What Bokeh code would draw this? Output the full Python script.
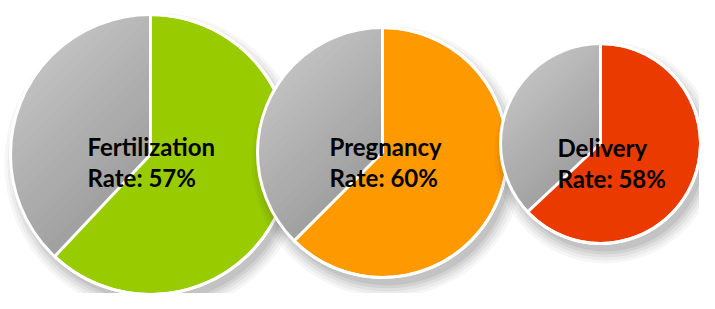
import math
from bokeh.plotting import figure
from bokeh.models import Range1d
from bokeh.core.properties import value
from bokeh.embed import file_html
from bokeh.resources import INLINE

# ---- data ----
stages = ["Fertilization", "Pregnancy", "Delivery"]
rates = [57, 60, 58]                     # label values (%)
slice_share = [62, 62.5, 63]             # drawn share of colored slice (%), as seen
colors = ["#99CC00", "#FF9900", "#EB3A00"]

# ---- layout (pixel coords, y measured from top) ----
cx = [150, 382, 600]
cy = [154, 152, 143]
rad = [140, 125, 100]
label_x = [87, 329, 557]
label_y1 = [146, 146, 147]
label_y2 = [177, 177, 178]

W, H = 699, 293
p = figure(width=W, height=H, output_backend="svg", toolbar_location=None,
           x_range=Range1d(0, W), y_range=Range1d(309 - H, 309),
           min_border=0)
p.axis.visible = False
p.grid.visible = False
p.outline_line_color = None
p.background_fill_color = "white"
p.border_fill_color = "white"


def clip(poly, nx, ny, c):
    # keep points with nx*x+ny*y >= c
    out = []
    n = len(poly)
    for i in range(n):
        a = poly[i]
        b = poly[(i + 1) % n]
        da = nx * a[0] + ny * a[1] - c
        db = nx * b[0] + ny * b[1] - c
        if da >= 0:
            out.append(a)
        if (da >= 0) != (db >= 0):
            t = da / (da - db)
            out.append((a[0] + t * (b[0] - a[0]), a[1] + t * (b[1] - a[1])))
    return out


for i in range(3):
    X = cx[i]
    Y = 309 - cy[i]
    r = rad[i]
    f = slice_share[i] / 100.0
    # soft drop shadow (down-right)
    for extra, al in [(11, 0.035), (8, 0.04), (5, 0.05), (2, 0.06), (-1, 0.07)]:
        p.circle([X + 5], [Y - 9], radius=r + extra, fill_color="black",
                 fill_alpha=al, line_color=None)
    # gray slice with gradient (light top-left -> dark toward lower right)
    a0 = math.pi / 2
    a1 = math.pi / 2 + 2 * math.pi * (1 - f)
    poly = [(X, Y)]
    steps = 80
    for s in range(steps + 1):
        a = a0 + (a1 - a0) * s / steps
        poly.append((X + r * math.cos(a), Y + r * math.sin(a)))
    nx, ny = 1 / math.sqrt(2), -1 / math.sqrt(2)
    dmin = nx * (X - r) + ny * (Y + r)
    dmax = nx * (X) + ny * (Y)
    nb = 24
    xs, ys, cols = [], [], []
    for b in range(nb):
        lo = dmin + (dmax - dmin) * b / nb - (r if b == 0 else 0)
        hi = dmin + (dmax - dmin) * (b + 1) / nb + (r * 2 if b == nb - 1 else 0.6)
        piece = clip(poly, nx, ny, lo)
        piece = clip(piece, -nx, -ny, -hi)
        if len(piece) < 3:
            continue
        g = int(round(206 - (206 - 160) * (b + 0.5) / nb))
        xs.append([q[0] for q in piece])
        ys.append([q[1] for q in piece])
        cols.append("#%02x%02x%02x" % (g, g, g))
    p.patches(xs, ys, fill_color=cols, line_color=None)
    # colored slice
    p.wedge([X], [Y], radius=r, start_angle=math.pi / 2 - 2 * math.pi * f,
            end_angle=math.pi / 2, fill_color=colors[i], line_color=None)
    # white borders
    p.wedge([X], [Y], radius=r, start_angle=math.pi / 2 - 2 * math.pi * f,
            end_angle=math.pi / 2, fill_color=None, line_color="white", line_width=3)
    p.circle([X], [Y], radius=r, fill_color=None, line_color="white", line_width=3)

for i in range(3):
    p.text([label_x[i]], [309 - label_y1[i]], text=[stages[i]],
           text_font=value("Lato"), text_font_style="bold", text_font_size="24px",
           text_color="#000000", text_baseline="alphabetic", text_align="left")
    p.text([label_x[i]], [309 - label_y2[i]], text=["Rate: %d%%" % rates[i]],
           text_font=value("Lato"), text_font_style="bold", text_font_size="24px",
           text_color="#000000", text_baseline="alphabetic", text_align="left")

open("out.html", "w").write(file_html(p, INLINE))
